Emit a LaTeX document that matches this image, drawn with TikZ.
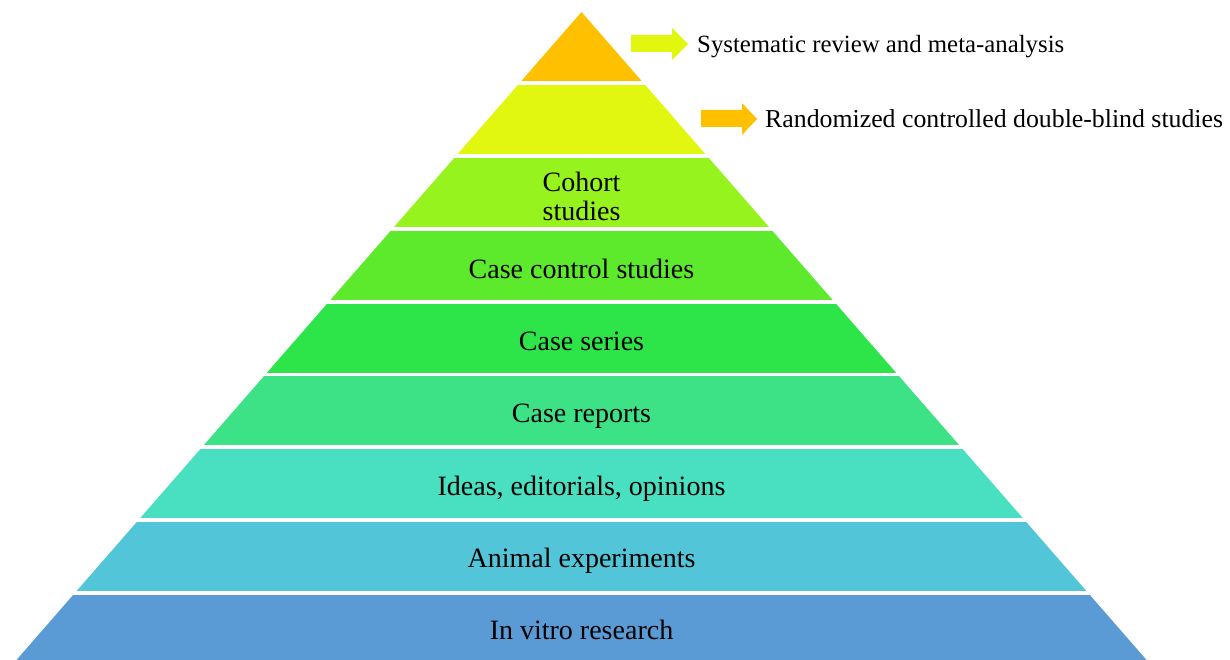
\documentclass[tikz,border=0pt]{standalone}
\usepackage{fontspec}
\setmainfont{Liberation Serif}
\definecolor{cA}{HTML}{FFC000}
\definecolor{cB}{HTML}{E1F70F}
\definecolor{cC}{HTML}{97F31E}
\definecolor{cD}{HTML}{5DEA2D}
\definecolor{cE}{HTML}{2EE549}
\definecolor{cF}{HTML}{3DE287}
\definecolor{cG}{HTML}{49E0C1}
\definecolor{cH}{HTML}{52C6D8}
\definecolor{cI}{HTML}{5B9BD5}
\tikzset{
  lvltext/.style={anchor=base, inner sep=0pt, text=black, font=\fontsize{28}{29}\selectfont},
  sidetext/.style={anchor=base west, inner sep=0pt, text=black},
  gapline/.style={white, line width=3.5pt},
}
\begin{document}
\begin{tikzpicture}[x=1pt,y=1pt]
\useasboundingbox (0,0) rectangle (1230,-660);
\fill[white] (0,0) rectangle (1230,-660);
\begin{scope}
\clip (0,0) rectangle (1230,-660);
\foreach \ya/\yb/\c in {12/83/cA, 83/156/cB, 156/229/cC, 229/302/cD, 302/374.5/cE, 374.5/447/cF, 447/520/cG, 520/593/cH, 593/666/cI}{
  \fill[\c] ({581.5-0.872*(\ya-12)},-\ya) -- ({581.5+0.872*(\ya-12)},-\ya)
     -- ({581.5+0.872*(\yb-12)},-\yb) -- ({581.5-0.872*(\yb-12)},-\yb) -- cycle;
}
\foreach \y in {83,156,229,302,374.5,447,520,593}{
  \draw[gapline] ({581.5-0.872*(\y-12)-3},-\y) -- ({581.5+0.872*(\y-12)+3},-\y);
}
\end{scope}
% block arrows
\fill[cB] (631,-35) -- (672,-35) -- (672,-28) -- (688,-44) -- (672,-60) -- (672,-52) -- (631,-52) -- cycle;
\fill[cA] (701,-110) -- (742,-110) -- (742,-103) -- (757,-119) -- (742,-135) -- (742,-127) -- (701,-127) -- cycle;
% texts
\node[sidetext, font=\fontsize{24.8}{26}\selectfont] (t1) at (697,-53) {Systematic review and meta-analysis};
\node[sidetext, font=\fontsize{25.8}{27}\selectfont] (t2) at (765,-128) {Randomized controlled double-blind studies};
\node[lvltext] (l3a) at (581.5,-192) {Cohort};
\node[lvltext] (l3b) at (581.5,-221) {studies};
\node[lvltext] (l4) at (581.5,-278) {Case control studies};
\node[lvltext] (l5) at (581.5,-350) {Case series};
\node[lvltext] (l6) at (581.5,-422) {Case reports};
\node[lvltext] (l7) at (581.5,-495) {Ideas, editorials, opinions};
\node[lvltext] (l8) at (581.5,-567) {Animal experiments};
\node[lvltext] (l9) at (581.5,-639) {In vitro research};
\end{tikzpicture}
\end{document}
